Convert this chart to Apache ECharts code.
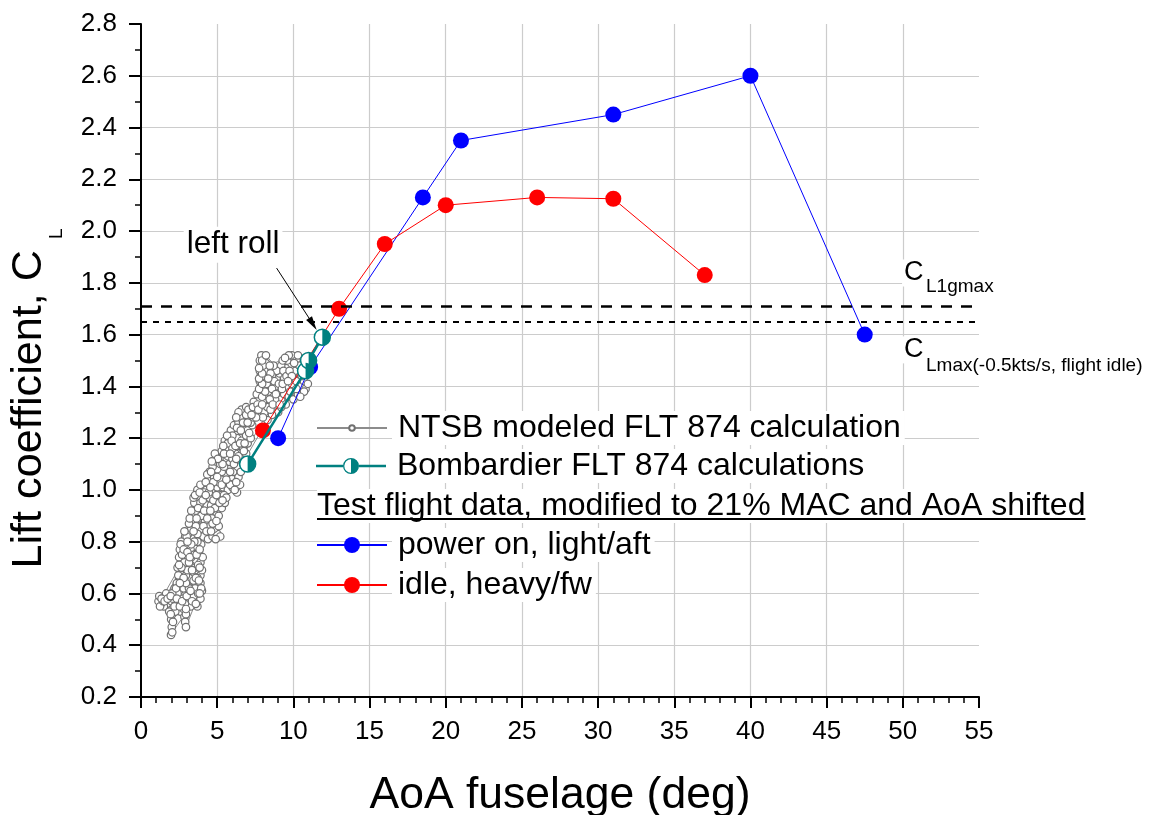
<!DOCTYPE html>
<html><head><meta charset="utf-8">
<script src="https://cdn.jsdelivr.net/npm/echarts@6/dist/echarts.min.js"></script>
<style>html,body{margin:0;padding:0;background:#fff}#c{width:1153px;height:815px}</style>
</head><body><div id="c"></div>
<script>
const FONT = '"Liberation Sans", Arial, Helvetica, sans-serif';

// ---- axes ----
const xAxisRange = [0, 55, 5];
const yAxisRange = [0.2, 2.8, 0.2];
const xAxisTitle = 'AoA fuselage (deg)';
const yAxisTitleMain = 'Lift coefficient, C';
const yAxisTitleSub = 'L';

// ---- series names ----
const nameNTSB = 'NTSB modeled FLT 874 calculation';
const nameBomb = 'Bombardier FLT 874 calculations';
const namePower = 'power on, light/aft';
const nameIdle = 'idle, heavy/fw';
const legendHeader = 'Test flight data, modified to 21% MAC and AoA shifted';

// ---- data ----
const ntsbData = [
[1.97,0.44],[2.02,0.47],[1.98,0.50],[2.05,0.52],[2.1,0.49],[2.15,0.53],[1.9,0.55],[1.7,0.56],[1.5,0.55],[1.3,0.56],
[1.15,0.57],[1.2,0.59],[1.4,0.58],[1.6,0.58],[1.8,0.59],[2.0,0.57],[2.3,0.56],[2.5,0.58],[2.4,0.55],[2.6,0.53],
[2.8,0.54],[2.85,0.51],[2.9,0.49],[2.95,0.52],[3.0,0.55],[3.2,0.57],[3.1,0.60],[2.9,0.58],[2.7,0.60],[2.5,0.61],
[2.3,0.59],[2.2,0.62],[2.6,0.63],[2.8,0.62],[3.3,0.59],[3.5,0.57],[3.7,0.55],[3.9,0.58],[3.8,0.61],[3.6,0.60],
[3.4,0.62],[3.6,0.64],[3.9,0.64],[4.0,0.61],
[2.5,0.66],[2.7,0.65],[2.6,0.68],[2.8,0.70],[2.6,0.72],[2.75,0.74],[2.9,0.76],[2.7,0.78],[2.85,0.80],[3.0,0.78],
[3.1,0.74],[3.0,0.71],[3.2,0.68],[3.1,0.65],[3.3,0.66],[3.5,0.68],[3.4,0.71],[3.6,0.73],[3.4,0.76],[3.6,0.78],
[3.8,0.76],[3.9,0.72],[3.7,0.69],[3.9,0.67],[3.7,0.66],[3.3,0.74],[3.2,0.80],[3.4,0.82],[3.1,0.83],[2.9,0.82],
[3.3,0.85],[3.5,0.87],[3.4,0.90],[3.6,0.92],[3.5,0.95],[3.8,0.97],[3.7,1.00],[4.0,0.99],[4.2,0.96],[4.0,0.93],
[3.8,0.89],[3.9,0.85],[4.1,0.82],[4.4,0.81],[4.7,0.82],[5.0,0.83],[5.2,0.82],[4.8,0.85],[4.5,0.86],[4.2,0.88],
[4.4,0.91],[4.3,0.94],[4.5,0.97],[4.8,0.99],[5.0,0.96],[5.3,0.93],[5.5,0.95],[5.3,0.98],[5.0,1.01],[4.6,1.02],
[4.3,1.00],[3.9,0.95],[3.7,0.83],[3.6,0.80],
[4.5,1.04],[4.8,1.05],[5.1,1.03],[5.4,1.01],[5.7,1.00],[6.0,1.01],[6.3,0.99],[6.5,1.02],[6.2,1.04],[5.9,1.05],
[5.6,1.06],[5.3,1.07],[5.0,1.08],[4.7,1.09],[4.5,1.07],[4.9,1.11],[5.2,1.10],[5.5,1.12],[5.8,1.10],[6.1,1.08],
[6.3,1.11],[6.6,1.13],[6.8,1.12],[6.5,1.15],[6.2,1.14],[5.9,1.15],[5.6,1.16],[5.3,1.15],
[5.5,1.19],[5.8,1.20],[6.1,1.18],[6.4,1.17],[6.7,1.16],[7.0,1.18],[6.8,1.21],[6.5,1.20],[6.2,1.22],[5.9,1.23],
[6.1,1.25],[6.4,1.26],[6.7,1.24],[7.0,1.23],[7.3,1.25],[7.1,1.28],[6.8,1.29],[6.5,1.28],[6.6,1.31],[6.9,1.32],
[7.2,1.31],[7.5,1.30],[7.8,1.31],[8.1,1.30],[8.3,1.32],
[8.0,1.34],[7.7,1.35],[7.4,1.34],[7.8,1.38],[7.85,1.40],[7.8,1.42],[7.85,1.44],[7.8,1.46],[7.85,1.48],[7.8,1.50],
[7.9,1.52],[8.2,1.49],[8.3,1.46],[8.2,1.43],[8.5,1.41],[8.4,1.38],[8.7,1.36],[8.9,1.33],[9.2,1.35],[9.0,1.38],
[8.8,1.40],[8.9,1.43],[9.1,1.45],[9.4,1.43],[9.6,1.40],[9.4,1.37],[9.7,1.36],[10.0,1.38],[9.9,1.41],[10.2,1.42],
[10.5,1.40],[10.8,1.39],[10.7,1.42],[10.4,1.45],[10.1,1.46],[9.8,1.48],[9.6,1.50],[9.9,1.52],[10.2,1.50],[10.4,1.48],
[9.5,1.47],[9.2,1.48],[8.9,1.46],[8.6,1.44],[8.7,1.48],[9.0,1.30],[8.6,1.29],[8.3,1.27],
[1.25,0.55],[1.45,0.57],[1.65,0.60],[1.85,0.53],[2.1,0.58],[2.25,0.53],[2.45,0.57],[2.65,0.56],[2.75,0.58],[3.05,0.57],
[3.25,0.55],[3.45,0.59],[3.55,0.62],[3.75,0.60],[3.95,0.62],[2.95,0.47],[2.88,0.56],[3.15,0.62],[2.4,0.60],[2.05,0.60],
[2.35,0.64],[2.45,0.67],[2.4,0.70],[2.5,0.74],[2.55,0.77],[2.65,0.80],[2.95,0.67],[3.05,0.69],[2.85,0.72],[3.15,0.72],
[3.25,0.77],[3.5,0.75],[3.55,0.70],[3.75,0.71],[4.0,0.69],[4.05,0.74],[3.95,0.79],[3.7,0.80],[3.45,0.65],[2.95,0.64],
[3.0,0.82],[2.8,0.66],
[3.15,0.87],[3.3,0.92],[3.45,0.97],[3.6,0.86],[3.75,0.93],[3.95,0.90],[4.1,0.86],[4.3,0.84],[4.6,0.84],[4.9,0.81],
[5.1,0.86],[4.65,0.89],[4.6,0.94],[4.85,0.93],[5.1,0.90],[5.45,0.98],[5.6,0.97],[4.15,0.99],[3.9,1.02],[4.45,0.99],
[4.35,1.06],[4.6,1.07],[4.75,1.03],[5.25,1.04],[5.55,1.03],[5.85,1.02],[6.15,1.00],[6.4,1.05],[6.05,1.07],[5.75,1.08],
[5.45,1.09],[5.15,1.12],[4.85,1.14],[5.7,1.13],[6.0,1.12],[6.35,1.09],[6.7,1.10],[6.9,1.14],[6.4,1.13],[5.45,1.14],
[5.7,1.18],[6.0,1.16],[6.3,1.20],[6.6,1.19],[6.9,1.21],[7.2,1.20],[6.0,1.21],[6.3,1.24],[6.55,1.23],[6.85,1.26],
[7.2,1.26],[7.4,1.28],[6.9,1.29],[6.4,1.30],[7.05,1.31],[7.35,1.32],[7.65,1.33],[8.0,1.28],[8.5,1.31],
[7.6,1.37],[7.95,1.36],[8.15,1.38],[8.25,1.41],[8.0,1.44],[8.1,1.46],[8.0,1.48],[8.5,1.45],[8.6,1.39],[8.75,1.42],
[9.05,1.41],[9.25,1.39],[9.35,1.46],[9.55,1.44],[9.75,1.46],[9.9,1.44],[10.0,1.35],[10.3,1.37],[10.55,1.44],[10.7,1.38],
[10.95,1.41],[10.3,1.52],[9.7,1.52],[9.3,1.50],[9.5,1.33],[9.2,1.32],[8.8,1.35],
[1.35,0.58],[1.55,0.57],[1.75,0.58],[1.95,0.59],[2.2,0.55],[2.35,0.58],[2.55,0.55],[2.7,0.57],[3.0,0.59],[3.35,0.57],
[3.6,0.56],[3.85,0.60],[2.05,0.45],[1.95,0.52],[2.95,0.54],[3.25,0.61],
[2.3,0.62],[2.55,0.64],[2.65,0.70],[2.5,0.71],[2.7,0.75],[2.6,0.79],[2.8,0.77],[3.05,0.76],[3.2,0.74],[3.35,0.69],
[3.6,0.66],[3.8,0.65],[3.85,0.70],[3.65,0.75],[3.85,0.77],[3.5,0.80],[3.3,0.79],[3.05,0.80],[2.85,0.84],
[3.2,0.89],[3.45,0.84],[3.65,0.89],[3.55,0.98],[3.85,0.99],[4.05,0.96],[4.15,0.92],[4.35,0.89],[4.55,0.92],[4.75,0.96],
[4.95,0.98],[5.15,0.95],[5.35,0.96],[4.7,0.87],[4.95,0.88],[4.25,0.98],
[4.25,1.03],[4.55,1.01],[5.0,1.05],[5.3,1.02],[5.6,1.04],[6.25,1.03],[6.55,1.07],[6.75,1.15],[6.1,1.10],[5.85,1.07],
[5.35,1.10],[5.05,1.12],[4.65,1.11],[5.85,1.14],[6.25,1.12],
[5.4,1.17],[5.65,1.21],[5.95,1.19],[6.2,1.17],[6.5,1.18],[6.8,1.18],[7.1,1.22],[6.7,1.26],[6.25,1.28],[7.0,1.26],
[7.55,1.28],[7.25,1.29],[7.7,1.31],[7.95,1.33],
[7.75,1.39],[7.95,1.41],[7.75,1.43],[7.95,1.45],[7.75,1.47],[7.95,1.50],[8.35,1.43],[8.45,1.35],[8.65,1.33],[9.1,1.33],
[9.3,1.41],[9.8,1.38],[10.2,1.39],[10.45,1.36],[10.6,1.47],[10.05,1.49],[9.45,1.51],[8.45,1.48],[8.85,1.37],[9.65,1.42],
[8.2,1.52]
];
const bombardierData = [[7.0,1.10],[10.8,1.46],[11.0,1.50],[11.9,1.59]];
const powerOnData = [[9,1.20],[11.1,1.475],[18.5,2.13],[21,2.35],[31,2.45],[40,2.60],[47.5,1.60]];
const idleData = [[8,1.23],[13,1.70],[16,1.95],[20,2.10],[26,2.13],[31,2.125],[37,1.83]];
const clL1gmax = 1.71;
const clLmax = 1.65;

// ---- annotations (data coords) ----
const leftRollLabel = 'left roll';
const leftRollAnchor = [2.80, 1.947];
const arrowFrom = [8.90, 1.857];
const arrowTo = [11.28, 1.641];
const labelL1gAnchor = [49.95, 1.838];
const labelLmaxAnchor = [49.95, 1.541];
const labelL1gSub = 'L1gmax';
const labelLmaxSub = 'Lmax(-0.5kts/s, flight idle)';

const TEAL = '#008080';
const bombIcon = 'path://M0,6.75 L27,6.75 L27,9.25 L0,9.25 Z M43,6.75 L70,6.75 L70,9.25 L43,9.25 Z ' +
  'M35,0 A8,8 0 1,1 35,16 A8,8 0 1,1 35,0 Z M35,1.3 A6.7,6.7 0 1,0 35,14.7 A6.7,6.7 0 1,0 35,1.3 Z ' +
  'M35,1.3 A6.7,6.7 0 0,1 35,14.7 Z';
const halfDisk = 'path://M0,0 C0.552,0 1,0.448 1,1 C1,1.552 0.552,2 0,2 Z';

const LEG_FS = 32;
const legendText = {fontSize: LEG_FS, fontFamily: FONT, color: '#000', lineHeight: 34,
  backgroundColor: '#fff', padding: [0, 4, 0, 6]};
function legendAt(items, centerY, itemHeight) {
  return {data: items, left: 316, top: centerY - 17, itemWidth: 70, itemHeight: itemHeight,
    padding: 0, itemGap: 0, orient: 'vertical', selectedMode: false, textStyle: legendText};
}

const option = {
  animation: false,
  backgroundColor: '#fff',
  grid: {left: 141, right: 174, top: 24, bottom: 118, containLabel: false, outerBoundsMode: 'none'},
  xAxis: {
    type: 'value', min: xAxisRange[0], max: xAxisRange[1], interval: xAxisRange[2],
    name: xAxisTitle, nameLocation: 'middle', nameGap: 76, nameMoveOverlap: false,
    nameTextStyle: {fontSize: 44.5, fontFamily: FONT, color: '#000'},
    axisLine: {show: true, onZero: false, lineStyle: {color: '#000', width: 2}},
    axisTick: {show: true, inside: false, length: 11, lineStyle: {color: '#000', width: 2}},
    minorTick: {show: true, splitNumber: 5, length: 6, lineStyle: {color: '#000', width: 1.5}},
    axisLabel: {fontSize: 26, fontFamily: FONT, color: '#000', margin: 22},
    splitLine: {show: true, showMinLine: false, showMaxLine: false, lineStyle: {color: '#cccccc', width: 1.2}}
  },
  yAxis: {
    type: 'value', min: yAxisRange[0], max: yAxisRange[1], interval: yAxisRange[2],
    name: '{m|' + yAxisTitleMain + '}{s|' + yAxisTitleSub + '}',
    nameLocation: 'middle', nameGap: 33, nameMoveOverlap: false,
    nameTextStyle: {padding: [0, 76, 0, 0], rich: {
      m: {fontSize: 43.2, fontFamily: FONT, color: '#000', lineHeight: 46, height: 46, verticalAlign: 'top'},
      s: {fontSize: 19, fontFamily: FONT, color: '#000', lineHeight: 102, height: 102, verticalAlign: 'top',
          padding: [0, 0, 0, 11]}
    }},
    axisLine: {show: true, onZero: false, lineStyle: {color: '#000', width: 2}},
    axisTick: {show: true, inside: false, length: 12, lineStyle: {color: '#000', width: 2}},
    minorTick: {show: true, splitNumber: 2, length: 6, lineStyle: {color: '#000', width: 1.5}},
    axisLabel: {fontSize: 26, fontFamily: FONT, color: '#000', margin: 24,
      formatter: v => v.toFixed(1)},
    splitLine: {show: true, showMinLine: false, showMaxLine: false, lineStyle: {color: '#cccccc', width: 1.2}}
  },
  legend: [
    legendAt([nameNTSB], 428, 7),
    legendAt([{name: nameBomb, icon: bombIcon, itemStyle: {color: TEAL, borderWidth: 0}}], 466, 16),
    legendAt([namePower], 545, 20),
    legendAt([nameIdle], 585, 20)
  ],
  series: [
    {
      name: nameNTSB, type: 'line', data: ntsbData, showAllSymbol: true,
      symbol: 'circle', symbolSize: 7.5, z: 2,
      itemStyle: {color: '#fff', borderColor: '#707070', borderWidth: 1.2},
      lineStyle: {color: '#8c8c8c', width: 1}
    },
    {
      name: namePower, type: 'line', data: powerOnData, symbol: 'circle', symbolSize: 16, z: 3,
      itemStyle: {color: '#0000ff'}, lineStyle: {color: '#0000ff', width: 1},
      markLine: {
        silent: true, symbol: ['none', 'none'], label: {show: false},
        data: [
          {yAxis: clL1gmax, lineStyle: {type: [11, 9], width: 2.5, color: '#000'}},
          {yAxis: clLmax, lineStyle: {type: [6, 6], width: 1.8, color: '#000'}}
        ]
      }
    },
    {
      name: nameIdle, type: 'line', data: idleData, symbol: 'circle', symbolSize: 16, z: 4,
      itemStyle: {color: '#ff0000'}, lineStyle: {color: '#ff0000', width: 1}
    },
    {
      name: nameBomb, type: 'line', data: bombardierData, symbol: 'circle', symbolSize: 16, z: 5,
      itemStyle: {color: '#fff', borderColor: TEAL, borderWidth: 1.5},
      lineStyle: {color: TEAL, width: 2.5},
      markLine: {
        silent: true, label: {show: false},
        lineStyle: {color: '#000', width: 1, type: 'solid'},
        data: [[
          {coord: arrowFrom, symbol: 'none'},
          {coord: arrowTo, symbol: 'triangle', symbolSize: [7, 14]}
        ]]
      }
    },
    {
      name: 'bombardier-fill', type: 'scatter', data: bombardierData, z: 6,
      symbol: halfDisk, symbolKeepAspect: false,
      symbolSize: [8, 16], symbolOffset: [4, 0],
      itemStyle: {color: TEAL, opacity: 1}
    }
  ]
};

const chart = echarts.init(document.getElementById('c'));
chart.setOption(option);

const px = pt => chart.convertToPixel({gridIndex: 0}, pt);
const ctx = document.createElement('canvas').getContext('2d');
ctx.font = LEG_FS + 'px ' + FONT;
const headerW = ctx.measureText(legendHeader).width;

const lr = px(leftRollAnchor);
const l1 = px(labelL1gAnchor);
const lm = px(labelLmaxAnchor);
function txt(x, y, text, size, pad) {
  return {type: 'text', x: x, y: y, z: 100,
    style: {text: text, fontSize: size, fontFamily: FONT, fill: '#000', align: 'left',
      verticalAlign: 'middle', backgroundColor: '#fff', padding: pad}};
}
chart.setOption({graphic: [
  txt(lr[0], lr[1], leftRollLabel, 31.5, [2, 3, 2, 3]),
  txt(317, 506, legendHeader, LEG_FS, [1, 2, 1, 0]),
  {type: 'rect', z: 101, shape: {x: 317, y: 518, width: headerW, height: 2}, style: {fill: '#000'}},
  txt(l1[0], l1[1], 'C', 27, [0, 2, 0, 2]),
  txt(l1[0] + 22, l1[1] + 14, labelL1gSub, 19, [0, 2, 0, 2]),
  txt(lm[0], lm[1], 'C', 27, [0, 2, 0, 2]),
  txt(lm[0] + 22, lm[1] + 16, labelLmaxSub, 19, [0, 2, 0, 2])
]});
</script>
</body></html>
